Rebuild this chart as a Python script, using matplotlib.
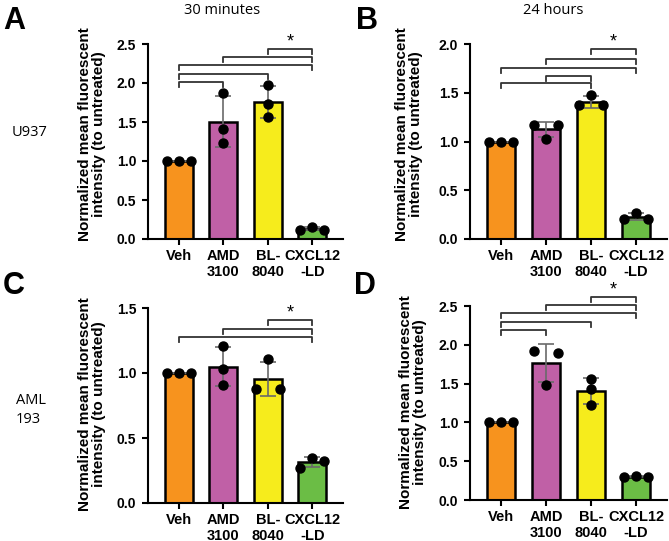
import numpy as np
import matplotlib
matplotlib.use("Agg")
import matplotlib.pyplot as plt

# data: three replicate values per treatment, listed left-to-right as drawn
categories = ["Veh", "AMD\n3100", "BL-\n8040", "CXCL12\n-LD"]
colors = ["#F7931E", "#C060A6", "#F6EC1C", "#6BBD45"]

u937_30min = [[1.0, 1.0, 1.0], [1.87, 1.41, 1.23], [1.97, 1.73, 1.57], [0.12, 0.16, 0.12]]
u937_24h = [[1.0, 1.0, 1.0], [1.17, 1.03, 1.17], [1.37, 1.48, 1.37], [0.21, 0.27, 0.21]]
aml_30min = [[1.0, 1.0, 1.0], [1.21, 1.03, 0.91], [0.877, 1.105, 0.877], [0.27, 0.346, 0.32]]
aml_24h = [[1.0, 1.0, 1.0], [1.92, 1.48, 1.90], [1.56, 1.43, 1.22], [0.29, 0.31, 0.30]]

# comparison brackets (group i, group j, height)
brackets_a = [(0, 1, 2.01), (0, 2, 2.12), (0, 3, 2.23), (1, 3, 2.33), (2, 3, 2.44)]
brackets_b = [(0, 2, 1.60), (1, 2, 1.675), (0, 3, 1.755), (1, 3, 1.845), (2, 3, 1.95)]
brackets_c = [(0, 3, 1.275), (1, 3, 1.34), (2, 3, 1.405)]
brackets_d = [(0, 1, 2.19), (0, 2, 2.30), (0, 3, 2.41), (1, 3, 2.51), (2, 3, 2.62)]

ylims = [2.5, 2.0, 1.5, 2.5]

plt.rcParams["font.family"] = ["Liberation Sans", "DejaVu Sans"]

W, H = 669, 541
fig = plt.figure(figsize=(W / 100, H / 100), dpi=100)


def add_axes(left, right, top, bottom):
    return fig.add_axes([left / W, 1 - bottom / H, (right - left) / W, (bottom - top) / H])


def spread(vals, px_per_unit, tol=7, step=0.27):
    # put points that would overlap side by side, like a scatter-dot plot
    vals = np.asarray(vals)
    order = np.argsort(vals, kind="stable")
    clusters = [[order[0]]]
    for k in order[1:]:
        if (vals[k] - vals[clusters[-1][-1]]) * px_per_unit < tol:
            clusters[-1].append(k)
        else:
            clusters.append([k])
    offs = np.zeros(len(vals))
    for cl in clusters:
        cl = sorted(cl)
        if len(cl) > 1:
            offs[cl] = np.linspace(-step, step, len(cl))
    return offs


def draw_panel(ax, data, brackets, ymax, px_height):
    x = np.arange(len(categories))
    means = [np.mean(d) for d in data]
    sds = [np.std(d, ddof=1) for d in data]
    ax.bar(x, means, width=0.62, color=colors, edgecolor="black", linewidth=1.8, zorder=2)
    ax.errorbar(x, means, yerr=sds, fmt="none", ecolor="#6a6a6a", elinewidth=1.2,
                capsize=5.5, capthick=1.2, zorder=3)
    ppu = px_height / ymax
    for i, d in enumerate(data):
        offs = spread(d, ppu)
        ax.plot(i + offs, d, "o", color="black", markersize=6.5, zorder=4, clip_on=False)
    tick = 0.065 * ymax / 2.5
    for i, j, h in brackets:
        ax.plot([i, i, j, j], [h - tick, h, h, h - tick], color="#333333", lw=1.3, clip_on=False)
    i, j, h = brackets[-1]
    ax.text((i + j) / 2, h + 0.09 * ymax / 2.5 * (195 / px_height) * (2.5 / ymax) * (ymax / 2.5),
            "*", ha="center", va="center", fontsize=13, clip_on=False)

    ax.set_xlim(-0.69, 3.69)
    ax.set_ylim(0, ymax)
    ax.set_yticks(np.arange(0, ymax + 0.01, 0.5))
    ax.set_yticklabels([f"{v:.1f}" for v in np.arange(0, ymax + 0.01, 0.5)])
    ax.set_xticks(x)
    ax.set_xticklabels(categories, linespacing=1.1)
    for sp in ["top", "right"]:
        ax.spines[sp].set_visible(False)
    for sp in ["left", "bottom"]:
        ax.spines[sp].set_linewidth(1.5)
    ax.tick_params(width=1.5, length=4.5)
    ax.tick_params(axis="y", labelsize=10, pad=4)
    ax.tick_params(axis="x", labelsize=10.5, pad=3)
    for lab in ax.get_xticklabels() + ax.get_yticklabels():
        lab.set_fontweight("bold")


ax_a = add_axes(148, 343, 44, 239)
ax_b = add_axes(470, 667, 44, 239)
ax_c = add_axes(148, 343, 308, 503)
ax_d = add_axes(470, 667, 306, 500)

draw_panel(ax_a, u937_30min, brackets_a, ylims[0], 195)
draw_panel(ax_b, u937_24h, brackets_b, ylims[1], 195)
draw_panel(ax_c, aml_30min, brackets_c, ylims[2], 195)
draw_panel(ax_d, aml_24h, brackets_d, ylims[3], 194)

ylab = "Normalized mean fluorescent\nintensity (to untreated)"
for xp, yp in [(92, 134), (409, 134), (92, 404), (413, 402)]:
    fig.text(xp / W, 1 - yp / H, ylab, rotation=90, ha="center", va="center",
             fontsize=11, fontweight="bold", linespacing=1.05)

for xp, yp, letter in [(14, 21, "A"), (367, 21, "B"), (14, 286, "C"), (365, 286, "D")]:
    fig.text(xp / W, 1 - yp / H, letter, ha="center", va="center", fontsize=22, fontweight="bold")

fig.text(222 / W, 1 - 11 / H, "30 minutes", ha="center", va="center", fontsize=10.5, family="Open Sans")
fig.text(553 / W, 1 - 11 / H, "24 hours", ha="center", va="center", fontsize=10.5, family="Open Sans")
fig.text(12 / W, 1 - 133 / H, "U937", ha="left", va="center", fontsize=10.5, family="Open Sans")
fig.text(16 / W, 1 - 410 / H, "AML\n193", ha="left", va="center", fontsize=10.5, family="Open Sans",
         linespacing=1.3)

fig.savefig("out.png", dpi=100)
